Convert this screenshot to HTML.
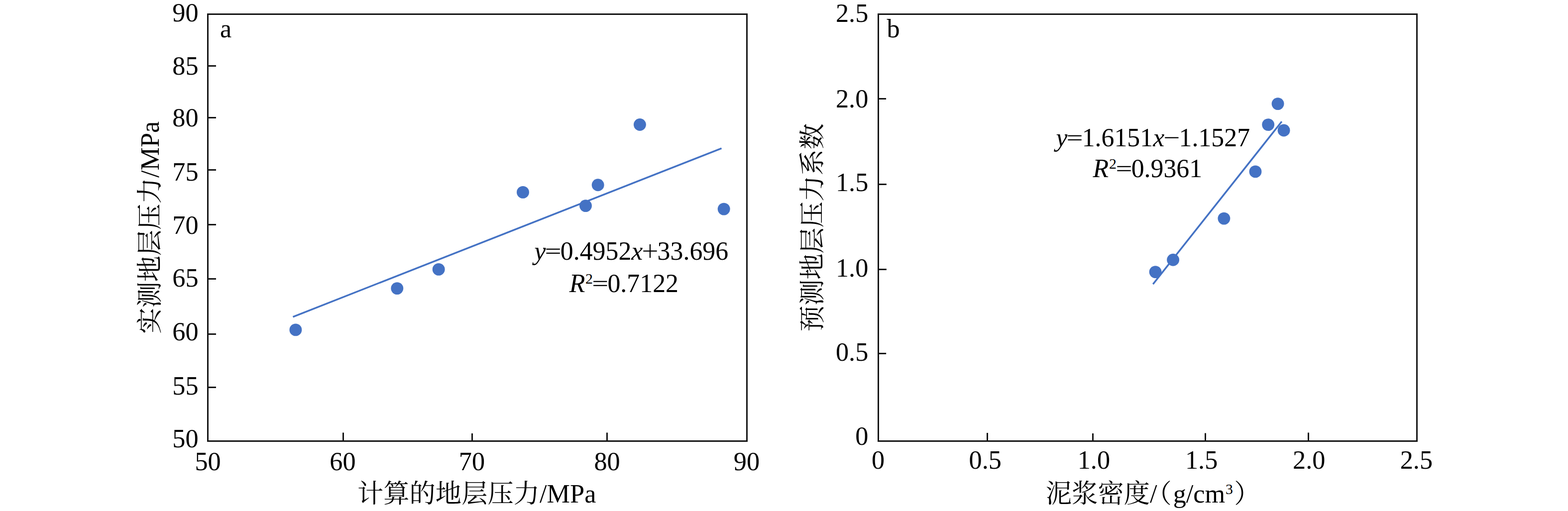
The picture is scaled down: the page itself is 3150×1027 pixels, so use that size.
<!DOCTYPE html>
<html><head><meta charset="utf-8"><title>Figure</title>
<style>
html,body{margin:0;padding:0;background:#fff;overflow:hidden;}
svg{display:block;font-family:"Liberation Serif", "Noto Serif CJK SC", serif;fill:#000;}
</style></head><body>
<svg width="3150" height="1027" viewBox="0 0 3150 1027">
<rect width="3150" height="1027" fill="#fff"/>
<rect x="417.50" y="28.50" width="1083.00" height="858.00" fill="none" stroke="#151515" stroke-width="3.00"/>
<path d="M417.50 132.50h16.50M417.50 236.50h16.50M417.50 341.50h16.50M417.50 451.50h16.50M417.50 560.50h16.50M417.50 671.50h16.50M417.50 778.50h16.50M689.50 886.50v-17.10M948.50 886.50v-15.60M1219.50 886.50v-17.10" fill="none" stroke="#151515" stroke-width="3.00"/>
<text x="398.60" y="43.23" font-size="52.30" text-anchor="end" >90</text>
<text x="398.60" y="150.33" font-size="52.30" text-anchor="end" >85</text>
<text x="398.60" y="254.13" font-size="52.30" text-anchor="end" >80</text>
<text x="398.60" y="362.73" font-size="52.30" text-anchor="end" >75</text>
<text x="398.60" y="470.03" font-size="52.30" text-anchor="end" >70</text>
<text x="398.60" y="576.23" font-size="52.30" text-anchor="end" >65</text>
<text x="398.60" y="683.93" font-size="52.30" text-anchor="end" >60</text>
<text x="398.60" y="792.63" font-size="52.30" text-anchor="end" >55</text>
<text x="398.60" y="899.13" font-size="52.30" text-anchor="end" >50</text>
<text x="417.60" y="944.50" font-size="52.30" text-anchor="middle" >50</text>
<text x="688.40" y="944.50" font-size="52.30" text-anchor="middle" >60</text>
<text x="948.00" y="944.50" font-size="52.30" text-anchor="middle" >70</text>
<text x="1219.60" y="944.50" font-size="52.30" text-anchor="middle" >80</text>
<text x="1500.00" y="944.50" font-size="52.30" text-anchor="middle" >90</text>
<text x="442.00" y="75.00" font-size="52.30" text-anchor="start" >a</text>
<line x1="588.5" y1="636.8" x2="1449.5" y2="298.1" stroke="#4472C4" stroke-width="3.45"/>
<circle cx="593.9" cy="662.9" r="12.45" fill="#4472C4"/>
<circle cx="797.8" cy="579.6" r="12.45" fill="#4472C4"/>
<circle cx="881.2" cy="541.4" r="12.45" fill="#4472C4"/>
<circle cx="1050.5" cy="386.4" r="12.45" fill="#4472C4"/>
<circle cx="1176.5" cy="413.6" r="12.45" fill="#4472C4"/>
<circle cx="1201.2" cy="371.8" r="12.45" fill="#4472C4"/>
<circle cx="1285.4" cy="250.5" r="12.45" fill="#4472C4"/>
<circle cx="1454.2" cy="420.1" r="12.45" fill="#4472C4"/>
<text x="1073.50" y="522.00" font-size="51.85" font-style="italic">y</text>
<rect x="1097.48" y="499.60" width="27.30" height="2.30"/>
<rect x="1097.48" y="507.70" width="27.30" height="2.30"/>
<text x="1125.75" y="522.00" font-size="51.85">0.4952<tspan font-style="italic">x</tspan></text>
<rect x="1292.33" y="503.40" width="27.30" height="2.30"/>
<rect x="1304.83" y="490.90" width="2.30" height="27.30"/>
<text x="1320.60" y="522.00" font-size="51.85">33.696</text>
<text x="1143.70" y="587.00" font-size="51.85" font-style="italic">R</text>
<text x="1175.90" y="569.70" font-size="30">2</text>
<rect x="1192.17" y="564.60" width="27.30" height="2.30"/>
<rect x="1192.17" y="572.70" width="27.30" height="2.30"/>
<text x="1220.44" y="587.00" font-size="51.85">0.7122</text>
<g transform="translate(717.98,1011.50)"><text x="0" y="-1.80" font-size="52.30" text-anchor="start">计算的地层压力</text><text x="366.10" y="-1.80" font-size="52.30" text-anchor="start" >/MPa</text></g>
<g transform="translate(318.70,670.87) rotate(-90)"><text x="0" y="0" font-size="52.30" text-anchor="start">实测地层压力</text><text x="313.80" y="0.00" font-size="52.30" text-anchor="start" >/MPa</text></g>
<rect x="1764.50" y="28.50" width="1082.00" height="858.00" fill="none" stroke="#151515" stroke-width="3.00"/>
<path d="M1764.50 198.50h15.60M1764.50 370.50h16.40M1764.50 541.50h16.40M1764.50 710.50h15.70M1983.50 886.50v-16.50M2195.50 886.50v-15.40M2421.50 886.50v-16.00M2628.50 886.50v-17.00" fill="none" stroke="#151515" stroke-width="3.00"/>
<text x="1744.30" y="44.23" font-size="52.30" text-anchor="end" >2.5</text>
<text x="1744.30" y="215.53" font-size="52.30" text-anchor="end" >2.0</text>
<text x="1744.30" y="384.23" font-size="52.30" text-anchor="end" >1.5</text>
<text x="1744.30" y="555.53" font-size="52.30" text-anchor="end" >1.0</text>
<text x="1744.30" y="724.63" font-size="52.30" text-anchor="end" >0.5</text>
<text x="1744.30" y="893.73" font-size="52.30" text-anchor="end" >0</text>
<text x="1764.10" y="942.00" font-size="52.30" text-anchor="middle" >0</text>
<text x="1979.30" y="942.00" font-size="52.30" text-anchor="middle" >0.5</text>
<text x="2197.40" y="942.00" font-size="52.30" text-anchor="middle" >1.0</text>
<text x="2413.60" y="942.00" font-size="52.30" text-anchor="middle" >1.5</text>
<text x="2629.80" y="942.00" font-size="52.30" text-anchor="middle" >2.0</text>
<text x="2845.40" y="942.00" font-size="52.30" text-anchor="middle" >2.5</text>
<text x="1781.50" y="75.00" font-size="52.30" text-anchor="start" >b</text>
<line x1="2316.3" y1="571.1" x2="2574.9" y2="244.3" stroke="#4472C4" stroke-width="3.45"/>
<circle cx="2567.1" cy="208.6" r="12.45" fill="#4472C4"/>
<circle cx="2547.7" cy="250.6" r="12.45" fill="#4472C4"/>
<circle cx="2579.1" cy="262.0" r="12.45" fill="#4472C4"/>
<circle cx="2522.0" cy="344.9" r="12.45" fill="#4472C4"/>
<circle cx="2458.9" cy="439.1" r="12.45" fill="#4472C4"/>
<circle cx="2356.6" cy="522.3" r="12.45" fill="#4472C4"/>
<circle cx="2321.1" cy="546.6" r="12.45" fill="#4472C4"/>
<text x="2121.40" y="294.20" font-size="51.85" font-style="italic">y</text>
<rect x="2145.38" y="271.80" width="27.30" height="2.30"/>
<rect x="2145.38" y="279.90" width="27.30" height="2.30"/>
<text x="2173.65" y="294.20" font-size="51.85">1.6151<tspan font-style="italic">x</tspan></text>
<rect x="2340.23" y="275.60" width="27.30" height="2.30"/>
<text x="2368.50" y="294.20" font-size="51.85">1.1527</text>
<text x="2195.60" y="356.10" font-size="51.85" font-style="italic">R</text>
<text x="2228.00" y="338.80" font-size="30">2</text>
<rect x="2244.37" y="333.70" width="27.30" height="2.30"/>
<rect x="2244.37" y="341.80" width="27.30" height="2.30"/>
<text x="2272.64" y="356.10" font-size="51.85">0.9361</text>
<g transform="translate(2100.80,1011.00)"><text x="0" y="-1.20" font-size="52.30" text-anchor="start">泥浆密度</text><text x="209.20" y="-1.20" font-size="52.30" text-anchor="start" >/</text><text x="200.59" y="-1.20" font-size="52.30" text-anchor="start" font-family="&quot;Noto Serif CJK SC&quot;, serif">（</text><text x="255.90" y="-1.20" font-size="52.30" text-anchor="start" >g/cm</text><text x="378.37" y="-1.20" font-size="52.30" text-anchor="start" font-family="&quot;Noto Serif CJK SC&quot;, serif">）</text></g>
<text x="2461.90" y="992.70" font-size="29.8">3</text>
<g transform="translate(1650.10,666.40) rotate(-90)"><text x="0" y="0" font-size="52.30" text-anchor="start">预测地层压力系数</text></g>
</svg>
</body></html>
